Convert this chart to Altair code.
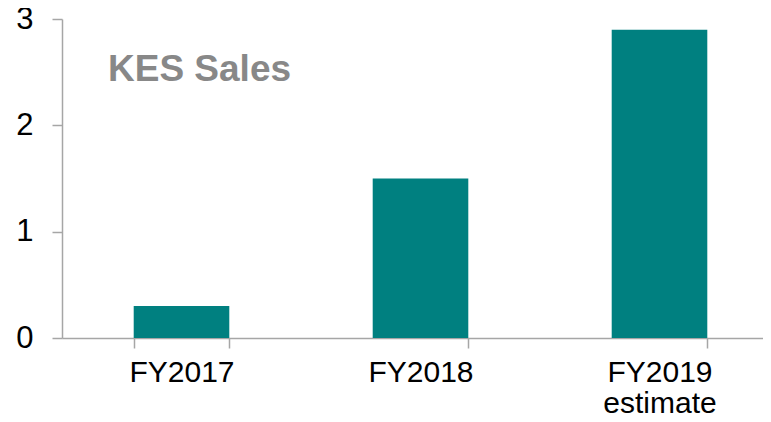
import altair as alt
import pandas as pd

categories = ["FY2017", "FY2018", "FY2019 estimate"]
values = [0.3, 1.5, 2.9]
y_ticks = [0, 1, 2, 3]
title_text = "KES Sales"

df = pd.DataFrame({"year": categories, "sales": values})

FONT = "Liberation Sans"
AXIS_GRAY = "#a6a6a6"

bars = alt.Chart(df).mark_bar(color="#008080").encode(
    x=alt.X(
        "year:N",
        sort=categories,
        scale=alt.Scale(paddingInner=0.6, paddingOuter=0.3),
        axis=alt.Axis(
            title=None,
            labelAngle=0,
            labelFontSize=30,
            labelFont=FONT,
            labelColor="black",
            labelPadding=9,
            labelLineHeight=31,
            labelExpr="split(datum.label, ' ')",
            tickBand="extent",
            tickSize=10,
            tickColor=AXIS_GRAY,
            domainColor=AXIS_GRAY,
            tickWidth=1.5,
            domainWidth=1.5,
        ),
    ),
    y=alt.Y(
        "sales:Q",
        scale=alt.Scale(domain=[0, 3], nice=False),
        axis=alt.Axis(
            title=None,
            values=y_ticks,
            grid=False,
            labelFontSize=31,
            labelFont=FONT,
            labelColor="black",
            labelPadding=19,
            tickSize=10,
            tickColor=AXIS_GRAY,
            domainColor=AXIS_GRAY,
            tickWidth=1.5,
            domainWidth=1.5,
        ),
    ),
)

label = alt.Chart(pd.DataFrame({"t": [title_text]})).mark_text(
    align="left",
    baseline="middle",
    font=FONT,
    fontSize=37,
    fontWeight="bold",
    color="#888888",
).encode(text="t:N", x=alt.value(46), y=alt.value(51))

chart = (
    alt.layer(bars, label)
    .properties(
        width=717,
        height=319,
        autosize=alt.AutoSizeParams(type="none"),
        padding={"left": 54, "top": 11, "right": -16, "bottom": 76},
    )
    .configure_view(stroke=None)
)

chart.save("out.html", embed_options={"renderer": "svg", "actions": False})
